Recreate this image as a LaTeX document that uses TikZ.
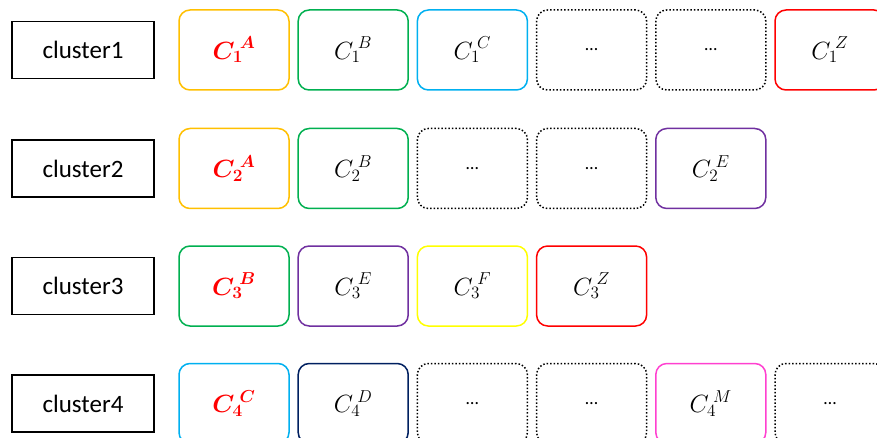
\documentclass[tikz,border=0pt]{standalone}
\usepackage{fontspec}
\setmainfont{Carlito}
\usepackage{bm}
\definecolor{cgold}{HTML}{FFC000}
\definecolor{cgreen}{HTML}{00B050}
\definecolor{cblue}{HTML}{00B0F0}
\definecolor{cred}{HTML}{FF0000}
\definecolor{cpurple}{HTML}{7030A0}
\definecolor{cyellow}{HTML}{FFFF00}
\definecolor{cnavy}{HTML}{002060}
\definecolor{cmagenta}{HTML}{FF40D0}
\newcommand{\cm}[2]{\scalebox{1.2}{${C_{#1}}^{\!#2}$}}
\newcommand{\cmb}[2]{\scalebox{1.2}{$\bm{{C_{#1}}^{\!#2}}$}}
\newcommand{\dts}{\fontsize{18}{20}\selectfont …}
\begin{document}
\begin{tikzpicture}[x=1pt,y=-1pt,
  clbox/.style={draw=black,line width=1.3pt,minimum width=142pt,minimum height=57pt,inner sep=0pt,font=\fontsize{25}{28}\selectfont},
  rbox/.style={line width=1.5pt,rounded corners=11pt,minimum width=110pt,minimum height=80pt,inner sep=0pt,font=\fontsize{22}{26}\selectfont},
  dotbox/.style={rbox,draw=black,dotted,line width=1.5pt},
  hl/.style={text=cred}]
\clip (0,0) rectangle (877,438);
\fill[white] (0,0) rectangle (877,438);
% row centres
\def\ya{50}\def\yb{168.5}\def\yc{286}\def\yd{403.5}
% cluster labels
\node[clbox] (cl1) at (83,\ya) {cluster1};
\node[clbox] (cl2) at (83,\yb) {cluster2};
\node[clbox] (cl3) at (83,\yc) {cluster3};
\node[clbox] (cl4) at (83,\yd) {cluster4};
% row 1
\node[rbox,draw=cgold,hl] (a1) at (234,\ya) {\cmb{1}{A}};
\node[rbox,draw=cgreen] (a2) at (353.2,\ya) {\cm{1}{B}};
\node[rbox,draw=cblue] (a3) at (472.4,\ya) {\cm{1}{C}};
\node[dotbox] (a4) at (591.6,\ya) {\dts};
\node[dotbox] (a5) at (710.8,\ya) {\dts};
\node[rbox,draw=cred] (a6) at (830,\ya) {\cm{1}{Z}};
% row 2
\node[rbox,draw=cgold,hl] (b1) at (234,\yb) {\cmb{2}{A}};
\node[rbox,draw=cgreen] (b2) at (353.2,\yb) {\cm{2}{B}};
\node[dotbox] (b3) at (472.4,\yb) {\dts};
\node[dotbox] (b4) at (591.6,\yb) {\dts};
\node[rbox,draw=cpurple] (b5) at (710.8,\yb) {\cm{2}{E}};
% row 3
\node[rbox,draw=cgreen,hl] (c1) at (234,\yc) {\cmb{3}{B}};
\node[rbox,draw=cpurple] (c2) at (353.2,\yc) {\cm{3}{E}};
\node[rbox,draw=cyellow] (c3) at (472.4,\yc) {\cm{3}{F}};
\node[rbox,draw=cred] (c4) at (591.6,\yc) {\cm{3}{Z}};
% row 4
\node[rbox,draw=cblue,hl] (d1) at (234,\yd) {\cmb{4}{C}};
\node[rbox,draw=cnavy] (d2) at (353.2,\yd) {\cm{4}{D}};
\node[dotbox] (d3) at (472.4,\yd) {\dts};
\node[dotbox] (d4) at (591.6,\yd) {\dts};
\node[rbox,draw=cmagenta] (d5) at (710.8,\yd) {\cm{4}{M}};
\node[dotbox] (d6) at (830,\yd) {\dts};
\end{tikzpicture}
\end{document}
